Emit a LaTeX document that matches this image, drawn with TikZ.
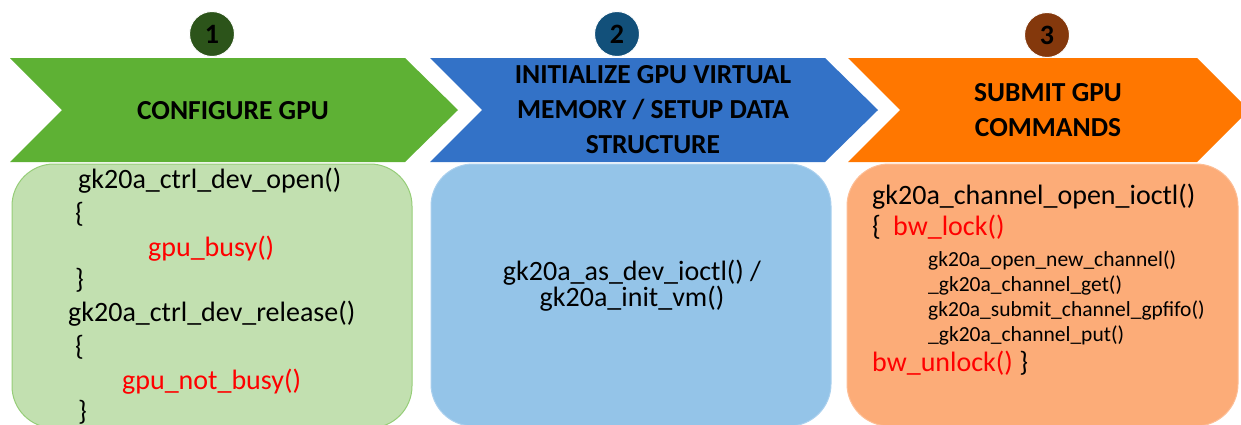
\documentclass[tikz,border=0pt]{standalone}
\usepackage{fontspec}
\setmainfont{Carlito}
\definecolor{chgreen}{RGB}{94,177,52}
\definecolor{chblue}{RGB}{51,114,199}
\definecolor{chorange}{RGB}{255,119,0}
\definecolor{numgreen}{RGB}{44,84,26}
\definecolor{numblue}{RGB}{18,80,122}
\definecolor{numbrown}{RGB}{132,56,12}
\definecolor{boxgreen}{RGB}{194,224,176}
\definecolor{boxgreenline}{RGB}{150,205,120}
\definecolor{boxblue}{RGB}{148,196,232}
\definecolor{boxblueline}{RGB}{170,208,238}
\definecolor{boxorange}{RGB}{252,172,120}
\definecolor{boxorangeline}{RGB}{253,190,150}
\definecolor{codered}{RGB}{255,0,0}
\tikzset{
  hdr/.style={font=\fontsize{27.5}{35}\selectfont\bfseries, align=center, inner sep=0pt},
  num/.style={circle, draw=white, line width=1pt, minimum size=45pt, inner sep=0pt,
              font=\fontsize{28}{28}\selectfont\bfseries},
  code/.style={font=\fontsize{28}{28}\selectfont, anchor=mid west, inner sep=0pt},
  smallcode/.style={font=\fontsize{21.5}{21.5}\selectfont, anchor=mid west, inner sep=0pt},
  hot/.style={text=codered},
  panel/.style={rounded corners=42pt, line width=1pt}
}
\begin{document}
\begin{tikzpicture}[x=1pt,y=-1pt]
\useasboundingbox (0,0) rectangle (1241,424);
\clip (0,0) rectangle (1241,424);

% step chevrons
\fill[chgreen]  (10,58) -- (405,58) -- (458,110) -- (405,162) -- (10,162) -- (62,110) -- cycle;
\fill[chblue]   (430,58) -- (825,58) -- (878,110) -- (825,162) -- (430,162) -- (482,110) -- cycle;
\fill[chorange] (848,58) -- (1197,58) -- (1249,110) -- (1197,162) -- (848,162) -- (900,110) -- cycle;

% step numbers
\node[num, fill=numgreen] (n1) at (212,34) {1};
\node[num, fill=numblue]  (n2) at (617,34) {2};
\node[num, fill=numbrown] (n3) at (1047,35) {3};

% step titles
\node[hdr] (t1) at (233,111) {CONFIGURE GPU};
\node[hdr] (t2) at (653,110) {INITIALIZE GPU VIRTUAL\\MEMORY / SETUP DATA\\STRUCTURE};
\node[hdr] (t3) at (1048,110) {SUBMIT GPU\\COMMANDS};

% detail panels
\draw[panel, fill=boxgreen, draw=boxgreenline]   (12,164) rectangle (412,428);
\draw[panel, fill=boxblue, draw=boxblueline]     (431,164) rectangle (831,426);
\draw[panel, fill=boxorange, draw=boxorangeline] (847,164) rectangle (1238,426);

% panel 1 code
\node[code] (g1) at (78,186) {gk20a\_ctrl\_dev\_open()};
\node[code] (g2) at (75,220) {\{};
\node[code, hot] (g3) at (148,254) {gpu\_busy()};
\node[code] (g4) at (75,286) {\}};
\node[code] (g5) at (68,319) {gk20a\_ctrl\_dev\_release()};
\node[code] (g6) at (75,353) {\{};
\node[code, hot] (g7) at (122,387) {gpu\_not\_busy()};
\node[code] (g8) at (78,418) {\}};

% panel 2 code
\node[code, anchor=mid] (b1) at (632,278) {gk20a\_as\_dev\_ioctl() /};
\node[code, anchor=mid] (b2) at (632,304) {gk20a\_init\_vm()};

% panel 3 code
\node[code] (o1) at (872,202) {gk20a\_channel\_open\_ioctl()};
\node[code] (o2) at (872,233) {\{};
\node[code, hot] (o3) at (893,233) {bw\_lock()};
\node[smallcode] (o4) at (928,264) {gk20a\_open\_new\_channel()};
\node[smallcode] (o5) at (928,289) {\_gk20a\_channel\_get()};
\node[smallcode] (o6) at (928,314) {gk20a\_submit\_channel\_gpfifo()};
\node[smallcode] (o7) at (928,339) {\_gk20a\_channel\_put()};
\node[code, hot] (o8) at (872,369) {bw\_unlock()};
\node[code, anchor=mid west] (o9) at ([xshift=6pt]o8.mid east) {\}};
\end{tikzpicture}
\end{document}
